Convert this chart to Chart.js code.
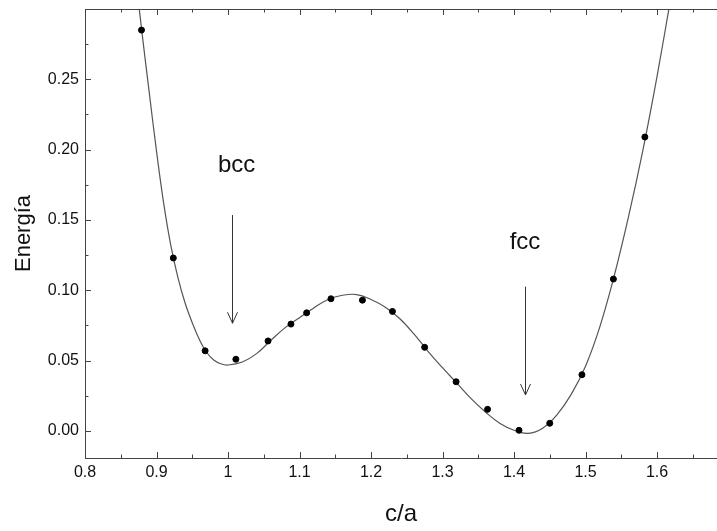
<!DOCTYPE html>
<html>
<head>
<meta charset="utf-8">
<script src="https://cdn.jsdelivr.net/npm/chart.js@4.4.1/dist/chart.umd.min.js"></script>
<style>
  html, body { margin: 0; padding: 0; background: #fff; overflow: hidden; }
  #wrap { width: 717px; height: 531px; }
  #energia { display: block; }
</style>
</head>
<body>
<div id="wrap"><canvas id="energia"></canvas></div>
<script>
// computed points (c/a, energy)
const caPoints = [0.879, 0.9235, 0.968, 1.011, 1.056, 1.088, 1.110, 1.144, 1.188, 1.230, 1.275, 1.319, 1.363, 1.407, 1.450, 1.495, 1.539, 1.583]
const energyPoints = [0.285, 0.123, 0.057, 0.051, 0.064, 0.076, 0.084, 0.094, 0.093, 0.085, 0.0595, 0.035, 0.0154, 0.0005, 0.0055, 0.040, 0.108, 0.209]

// fitted curve
const caCurve = [
  0.87, 0.88, 0.89, 0.90, 0.91, 0.92, 0.93, 0.94, 0.95, 0.96, 0.97, 0.98, 0.99, 1.00,
  1.02, 1.04, 1.06, 1.08, 1.10, 1.12, 1.14, 1.16, 1.18, 1.20, 1.22, 1.24, 1.26, 1.28, 1.30,
  1.32, 1.34, 1.36, 1.38, 1.40, 1.42, 1.44, 1.46, 1.48, 1.50, 1.52, 1.54, 1.56, 1.58, 1.60, 1.62
]
const energyCurve = [
  0.326, 0.282, 0.240, 0.199, 0.162, 0.132, 0.109, 0.091, 0.077, 0.065, 0.056, 0.0505, 0.0478, 0.0469,
  0.049, 0.055, 0.0645, 0.0735, 0.0805, 0.0875, 0.0935, 0.0965, 0.0970, 0.0935, 0.0880, 0.0800, 0.0690, 0.0565, 0.0450,
  0.0340, 0.0230, 0.0135, 0.0055, 0.0005, -0.0017, 0.0020, 0.0115, 0.0260, 0.0460, 0.0740, 0.1100, 0.1520, 0.1990, 0.2520, 0.3100
]

// axes
const xTicks = [0.8, 0.9, 1.0, 1.1, 1.2, 1.3, 1.4, 1.5, 1.6]
const xTickLabels = ["0.8", "0.9", "1", "1.1", "1.2", "1.3", "1.4", "1.5", "1.6"]
const xMinorTicks = [0.85, 0.95, 1.05, 1.15, 1.25, 1.35, 1.45, 1.55, 1.65]
const yTicks = [0, 0.05, 0.10, 0.15, 0.20, 0.25]
const yTickLabels = ["0.00", "0.05", "0.10", "0.15", "0.20", "0.25"]
const yMinorTicks = [0.025, 0.075, 0.125, 0.175, 0.225, 0.275]

// phase markers
const phaseNames = ["bcc", "fcc"]
const phaseCa = [1.006, 1.415]
const phaseLabelCa = [1.012, 1.4154]
const phaseLabelEnergy = [0.189, 0.134]
const arrowTopEnergy = [0.1535, 0.1026]
const arrowTipEnergy = [0.0766, 0.0256]

const fontFamily = "'Liberation Sans', Arial, Helvetica, sans-serif"
const axisColor = "#444"

// chart.js pads the area for the edge labels, we don't want that here
const noPadding = axis => {
  axis.paddingTop = 0
  axis.paddingBottom = 0
  axis.paddingLeft = 0
  axis.paddingRight = 0
}

// inward ticks + top border
const frameTicks = {
  id: "frameTicks",
  afterDatasetsDraw(chart) {
    const {ctx, chartArea: area, scales: {x, y}} = chart
    ctx.save()
    ctx.strokeStyle = axisColor
    ctx.lineWidth = 1
    ctx.beginPath()
    ctx.moveTo(area.left, area.top + 0.5)
    ctx.lineTo(area.right, area.top + 0.5)
    const xMark = (v, len) => {
      const px = Math.round(x.getPixelForValue(v)) + 0.5
      ctx.moveTo(px, area.bottom)
      ctx.lineTo(px, area.bottom - len)
      ctx.moveTo(px, area.top)
      ctx.lineTo(px, area.top + len)
    }
    const yMark = (v, len) => {
      const py = Math.round(y.getPixelForValue(v)) + 0.5
      ctx.moveTo(area.left, py)
      ctx.lineTo(area.left + len, py)
    }
    xTicks.forEach(v => xMark(v, 6))
    xMinorTicks.forEach(v => xMark(v, 3.5))
    yTicks.forEach(v => yMark(v, 6))
    yMinorTicks.forEach(v => yMark(v, 3.5))
    ctx.stroke()
    ctx.restore()
  }
}

// bcc / fcc labels and arrows
const phaseArrows = {
  id: "phaseArrows",
  afterDatasetsDraw(chart) {
    const {ctx, scales: {x, y}} = chart
    ctx.save()
    ctx.fillStyle = "#111"
    ctx.strokeStyle = "#333"
    ctx.lineWidth = 1
    ctx.font = `24px ${fontFamily}`
    ctx.textAlign = "center"
    ctx.textBaseline = "middle"
    phaseNames.forEach((name, i) => {
      ctx.fillText(name, x.getPixelForValue(phaseLabelCa[i]), y.getPixelForValue(phaseLabelEnergy[i]))
      const px = Math.round(x.getPixelForValue(phaseCa[i])) + 0.5
      const top = y.getPixelForValue(arrowTopEnergy[i])
      const tip = y.getPixelForValue(arrowTipEnergy[i])
      ctx.beginPath()
      ctx.moveTo(px, top)
      ctx.lineTo(px, tip)
      ctx.moveTo(px - 5, tip - 11)
      ctx.lineTo(px, tip)
      ctx.lineTo(px + 5, tip - 11)
      ctx.stroke()
    })
    ctx.restore()
  }
}

const energyChart = () => {
  const canvas = document.querySelector("#energia")

  const points = caPoints.map((c, i) => ({x: c, y: energyPoints[i]}))
  const curve = caCurve.map((c, i) => ({x: c, y: energyCurve[i]}))

  new Chart(canvas, {
    type: "line",
    data: {
      datasets: [
        {
          label: "Puntos",
          data: points,
          showLine: false,
          pointRadius: 3,
          pointBackgroundColor: "#000",
          pointBorderColor: "#000",
          pointBorderWidth: 1,
          order: 0,
        },
        {
          label: "Ajuste",
          data: curve,
          borderColor: "#555",
          borderWidth: 1.2,
          pointRadius: 0,
          tension: 0.4,
          fill: false,
          order: 1,
        },
      ]
    },
    options: {
      responsive: true,
      maintainAspectRatio: false,
      animation: false,
      layout: { autoPadding: false, padding: { top: 9, right: 0, bottom: 0, left: 0 } },
      plugins: {
        legend: { display: false },
        tooltip: { enabled: false },
      },
      scales: {
        x: {
          type: "linear",
          min: 0.8,
          max: 1.6839,
          afterBuildTicks: axis => { axis.ticks = xTicks.map(v => ({value: v})) },
          afterFit: axis => { axis.height = 73; noPadding(axis) },
          ticks: {
            callback: (v, i) => xTickLabels[i],
            font: { family: fontFamily, size: 16 },
            color: "#111",
            padding: 5,
            maxRotation: 0,
            autoSkip: false,
          },
          grid: { drawOnChartArea: false, drawTicks: false },
          border: { display: true, color: axisColor, width: 1 },
          title: {
            display: true,
            text: "c/a",
            font: { family: fontFamily, size: 24 },
            color: "#111",
            padding: { top: 0, bottom: 2 },
          },
        },
        y: {
          type: "linear",
          min: -0.0192,
          max: 0.30,
          afterBuildTicks: axis => { axis.ticks = yTicks.map(v => ({value: v})) },
          afterFit: axis => { axis.width = 85; noPadding(axis) },
          ticks: {
            callback: (v, i) => yTickLabels[i],
            font: { family: fontFamily, size: 16 },
            color: "#111",
            padding: 6,
          },
          grid: { drawOnChartArea: false, drawTicks: false },
          border: { display: true, color: axisColor, width: 1 },
          title: {
            display: true,
            text: "Energía",
            font: { family: fontFamily, size: 22 },
            color: "#111",
            padding: { top: 11, bottom: 0 },
          },
        },
      },
    },
    plugins: [frameTicks, phaseArrows],
  })
}

energyChart()
</script>
</body>
</html>
